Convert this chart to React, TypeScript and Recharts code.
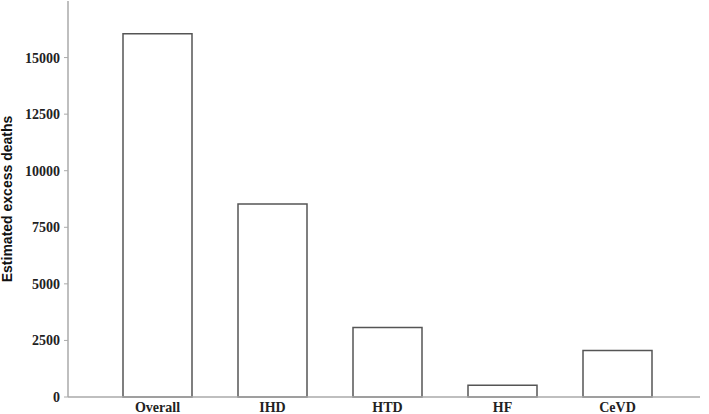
import React from "react";
import { BarChart, Bar, XAxis, YAxis } from "recharts";

const categories = ["Overall", "IHD", "HTD", "HF", "CeVD"];
const deaths = [16050, 8530, 3070, 520, 2060];
const yTicks = [0, 2500, 5000, 7500, 10000, 12500, 15000];

const data = categories.map((c, i) => ({ name: c, value: deaths[i] }));

const serif = "'Liberation Serif', 'Times New Roman', serif";

export default function App() {
  return (
    <div style={{ position: "absolute", left: 0, top: 0, width: 709, height: 414, background: "#fff" }}>
      <BarChart
        width={709}
        height={414}
        data={data}
        margin={{ top: 1, right: 9, left: 0, bottom: 0 }}
        barCategoryGap={46}
      >
        <XAxis
          dataKey="name"
          height={17}
          axisLine={{ stroke: "#aaaaaa", strokeWidth: 1.5 }}
          tickLine={false}
          padding={{ left: 32, right: 25 }}
          tick={{ fill: "#222", fontFamily: serif, fontWeight: "bold", fontSize: 14 }}
          tickMargin={-1}
          interval={0}
        />
        <YAxis
          width={68}
          domain={[0, 17500]}
          ticks={yTicks}
          interval={0}
          axisLine={{ stroke: "#aaaaaa", strokeWidth: 1.5 }}
          tickLine={{ stroke: "#aaaaaa" }}
          tickSize={4}
          tickMargin={4}
          tick={{ fill: "#222", fontFamily: serif, fontWeight: "bold", fontSize: 14 }}
          label={{
            value: "Estimated excess deaths",
            angle: -90,
            position: "insideLeft",
            offset: 7,
            style: { textAnchor: "middle", fontFamily: "'Liberation Sans', Arial, sans-serif", fontWeight: "bold", fontSize: 14, fill: "#111" },
          }}
        />
        <Bar
          dataKey="value"
          fill="#ffffff"
          stroke="#555555"
          strokeWidth={1.5}
          barSize={69}
          isAnimationActive={false}
        />
      </BarChart>
    </div>
  );
}
